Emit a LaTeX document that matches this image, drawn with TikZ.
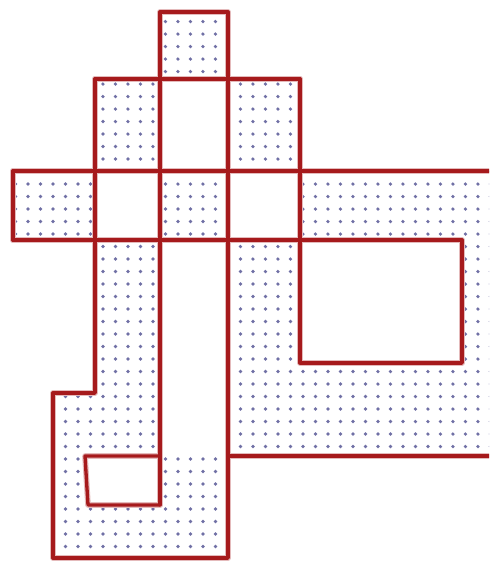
\documentclass[tikz,border=0pt]{standalone}
\usepackage{tikz}
\usetikzlibrary{patterns.meta}
\definecolor{wallred}{RGB}{166,26,28}
\definecolor{dotblue}{RGB}{112,112,165}
\tikzset{
	dotcell/.style={pattern={Dots[distance=0.25cm,radius=1.05pt,xshift=0.06cm,yshift=0.08cm]}, pattern color=dotblue},
	wall/.style={draw=wallred, line width=1.9pt, line join=round, line cap=round},
	wallglow/.style={draw=wallred!30, line width=3.2pt, line join=round, line cap=round}
}
\begin{document}
\begin{tikzpicture}[x=0.02cm,y=-0.02cm]
	\useasboundingbox (0,0) rectangle (489,563);
	\clip (0,0) rectangle (489,563);
	% dotted cells
	\fill[dotcell] (160,12) rectangle (228,79);
	\fill[dotcell] (95,79) rectangle (160,171);
	\fill[dotcell] (228,79) rectangle (300,171);
	\fill[dotcell] (13,171) rectangle (95,240);
	\fill[dotcell] (160,171) rectangle (228,240);
	\fill[dotcell] (300,171) rectangle (495,240);
	\fill[dotcell] (95,240) rectangle (160,456);
	\fill[dotcell] (53,393) rectangle (95,456);
	\fill[dotcell] (228,240) rectangle (300,456);
	\fill[dotcell] (462,240) rectangle (495,363);
	\fill[dotcell] (300,363) rectangle (495,456);
	\fill[dotcell] (53,456) -- (85,456) -- (88,505) -- (160,505) -- (160,456) -- (228,456) -- (228,558) -- (53,558) -- cycle;
	% outline and inner lines
	\foreach \st in {wallglow,wall}{
		\draw[\st] (495,456) -- (228,456) -- (228,558) -- (53,558) -- (53,393) -- (95,393) -- (95,240) -- (13,240) -- (13,171) -- (95,171) -- (95,79) -- (160,79) -- (160,12) -- (228,12) -- (228,79) -- (300,79) -- (300,171) -- (495,171);
		\draw[\st] (95,79) -- (300,79);
		\draw[\st] (13,171) -- (300,171);
		\draw[\st] (13,240) -- (300,240);
		\draw[\st] (160,79) -- (160,505);
		\draw[\st] (228,79) -- (228,456);
		\draw[\st] (95,171) -- (95,240);
		\draw[\st] (300,171) -- (300,240);
		% holes
		\draw[\st] (300,240) rectangle (462,363);
		\draw[\st] (85,456) -- (160,456) -- (160,505) -- (88,505) -- cycle;
	}
\end{tikzpicture}
\end{document}
